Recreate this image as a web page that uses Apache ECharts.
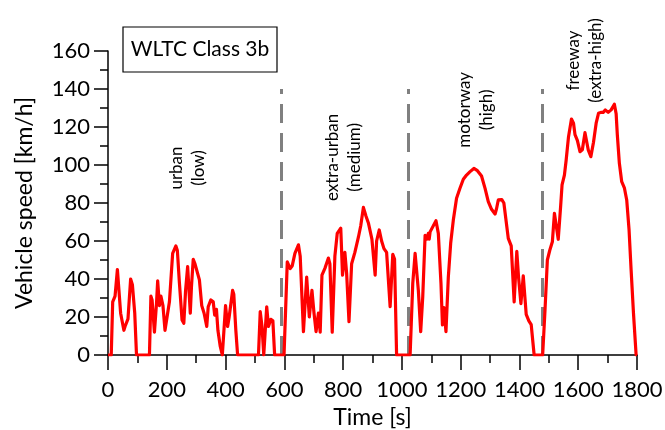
<!DOCTYPE html>
<html>
<head>
<meta charset="utf-8">
<script src="https://cdn.jsdelivr.net/npm/echarts@6/dist/echarts.min.js"></script>
<style>
  html, body { margin: 0; padding: 0; background: #fff; }
  #chart { width: 665px; height: 430px; }
</style>
</head>
<body>
<div id="chart"></div>
<script>
// WLTC Class 3b drive cycle: time [s] and vehicle speed [km/h]
const timeS = [
  0, 11, 16, 24, 32, 35, 43, 54, 58, 68, 77, 83, 91, 97, 141, 146, 150, 158, 165, 169,
  175, 180, 187, 194, 199, 209, 220, 231, 236, 243, 252, 258, 264, 271, 275, 280, 284, 290, 296, 301,
  311, 319, 327, 336, 341, 350, 358, 363, 369, 374, 382, 389, 393, 400, 407, 412, 417, 424, 428, 435,
  441, 512, 518, 524, 530, 533, 540, 546, 554, 561, 567, 599, 610, 620, 627, 636, 648, 654, 665, 676,
  685, 694, 701, 708, 716, 722, 728, 738, 750, 755, 763, 772, 780, 792, 798, 806, 812, 820, 829, 840,
  852, 860, 869, 878, 886, 892, 898, 909, 914, 923, 931, 939, 948, 953, 960, 969, 975, 982, 1028, 1037,
  1045, 1050, 1056, 1064, 1071, 1079, 1085, 1090, 1093, 1096, 1102, 1116, 1124, 1133, 1138, 1143, 1150, 1158, 1166, 1175,
  1186, 1197, 1209, 1220, 1232, 1245, 1257, 1271, 1283, 1294, 1305, 1317, 1322, 1328, 1334, 1340, 1347, 1362, 1367, 1372,
  1382, 1391, 1394, 1397, 1405, 1410, 1413, 1418, 1423, 1427, 1432, 1440, 1450, 1479, 1487, 1495, 1503, 1512, 1519, 1523,
  1532, 1540, 1545, 1553, 1559, 1567, 1577, 1584, 1589, 1597, 1606, 1614, 1623, 1629, 1634, 1643, 1652, 1661, 1669, 1677,
  1685, 1692, 1697, 1702, 1712, 1723, 1729, 1733, 1740, 1748, 1757, 1765, 1773, 1780, 1788, 1797, 1800
];
const speedKmh = [
  0, 0, 28, 31, 45, 45, 22, 13, 15, 19, 40, 37, 22, 0, 0, 31, 29, 12, 27, 39,
  26, 31, 26, 13, 13, 28, 53.5, 57.4, 55, 38, 18.4, 16.7, 34, 46.5, 46, 22, 36, 50.4, 48, 48.5,
  39.5, 26, 22, 15, 25.4, 29, 28, 21, 24, 13, 4.5, 0, 0, 26, 15, 19.7, 19, 34, 32, 13,
  0, 0, 22.8, 15, 0, 0, 25.4, 15, 18.8, 18, 0, 0, 49, 45.5, 47, 53.5, 58, 52, 12.3, 41,
  20, 34, 22, 12.3, 22, 12, 42, 45.6, 51, 48, 12, 52, 64, 66.7, 42, 54, 43, 17.5, 48, 54,
  62, 68, 77.7, 73, 69.5, 69, 61, 42, 60, 65.8, 60, 56, 54, 53, 25.4, 53, 50.5, 0, 0, 37.7,
  53.5, 52.8, 34, 12.3, 30.7, 63, 61, 64, 61, 64.8, 64, 70.7, 64, 37.7, 15.8, 25, 12.3, 41, 58.8, 71,
  82.5, 87.5, 92.5, 94.7, 96.5, 98.2, 97, 94.2, 87.7, 80.7, 76.7, 74.2, 77, 81.6, 81, 81.8, 80, 61.4, 62, 57.4,
  28, 54.6, 54, 40.8, 27, 27, 41.6, 42.5, 21.4, 21, 18, 16, 0, 0, 23.7, 50, 55, 59.6, 74.6, 74,
  60.9, 78, 89.5, 94.7, 102.6, 114.9, 124.2, 122, 116, 113, 107, 108, 117, 116, 108, 104.4, 112, 122, 127.2, 127.7,
  127.7, 129, 128.5, 127.7, 129, 132, 127, 116, 100.9, 91.2, 88, 81.6, 65.8, 44.7, 22, 0, 0
];

// Phase boundaries [s] and the height of the dashed separators [km/h]
const phaseBounds = [589, 1022, 1477];
const boundTop = 140;

// Phase names and their anchor points in data coordinates [s, km/h]
const phaseNames = ['urban\n(low)', 'extra-urban\n(medium)', 'motorway\n(high)', 'freeway\n(extra-high)'];
const phaseAnchorT = [270, 803, 1252, 1620];
const phaseAnchorV = [98.4, 104, 129, 155];

const cycleName = 'WLTC Class 3b';

const FONT = 'Lato, "Open Sans", sans-serif';

const chart = echarts.init(document.getElementById('chart'), null, { renderer: 'canvas' });

const points = timeS.map((t, i) => [t, speedKmh[i]]);

chart.setOption({
  animation: false,
  backgroundColor: '#ffffff',
  grid: { left: 108, right: 28, top: 51, bottom: 75, containLabel: false, outerBoundsMode: 'none' },
  xAxis: {
    type: 'value',
    min: 0, max: 1800, interval: 200,
    name: 'Time [s]',
    nameLocation: 'middle',
    nameGap: 46,
    nameTextStyle: { fontFamily: FONT, fontSize: 23, color: '#000' },
    axisLine: { show: true, onZero: false, lineStyle: { color: '#000', width: 1.5 } },
    axisTick: { show: true, length: 15, lineStyle: { color: '#000', width: 1.5 } },
    minorTick: { show: true, splitNumber: 2, length: 8, lineStyle: { color: '#000', width: 1.5 } },
    axisLabel: { fontFamily: FONT, fontSize: 22, color: '#000', margin: 24, formatter: v => String(v) },
    splitLine: { show: false },
    minorSplitLine: { show: false }
  },
  yAxis: {
    type: 'value',
    min: 0, max: 160, interval: 20,
    name: 'Vehicle speed [km/h]',
    nameLocation: 'middle',
    nameGap: 72,
    nameTextStyle: { fontFamily: FONT, fontSize: 23, color: '#000' },
    axisLine: { show: true, onZero: false, lineStyle: { color: '#000', width: 1.5 } },
    axisTick: { show: true, length: 14, lineStyle: { color: '#000', width: 1.5 } },
    minorTick: { show: true, splitNumber: 2, length: 8, lineStyle: { color: '#000', width: 1.5 } },
    axisLabel: { fontFamily: FONT, fontSize: 22, color: '#000', margin: 18, formatter: v => String(v) },
    splitLine: { show: false },
    minorSplitLine: { show: false }
  },
  series: [{
    type: 'line',
    data: points,
    showSymbol: false,
    symbol: 'none',
    lineStyle: { color: '#ff0000', width: 3.2, join: 'round' },
    z: 3,
    markLine: {
      silent: true,
      symbol: ['none', 'none'],
      label: { show: false },
      lineStyle: { color: '#808080', width: 3, type: [19, 10] },
      z: 2,
      data: phaseBounds.map(b => [{ coord: [b, 0] }, { coord: [b, boundTop] }])
    }
  }]
});

// Phase labels (rotated, reading bottom to top) and the cycle title box
const phaseLabels = phaseNames.map((txt, i) => {
  const p = chart.convertToPixel({ gridIndex: 0 }, [phaseAnchorT[i], phaseAnchorV[i]]);
  return {
    type: 'text',
    x: p[0], y: p[1],
    rotation: Math.PI / 2,
    z: 10,
    style: {
      text: txt,
      fontFamily: FONT,
      fontSize: 17,
      lineHeight: 22,
      fill: '#000',
      align: 'center',
      verticalAlign: 'middle'
    }
  };
});

chart.setOption({
  graphic: phaseLabels.concat([
    {
      type: 'rect',
      shape: { x: 123, y: 27, width: 154, height: 45 },
      style: { fill: '#fff', stroke: '#000', lineWidth: 1.2 },
      z: 10
    },
    {
      type: 'text',
      x: 200, y: 49.5,
      z: 11,
      style: {
        text: cycleName,
        fontFamily: FONT,
        fontSize: 21,
        fill: '#000',
        align: 'center',
        verticalAlign: 'middle'
      }
    }
  ])
});
</script>
</body>
</html>
